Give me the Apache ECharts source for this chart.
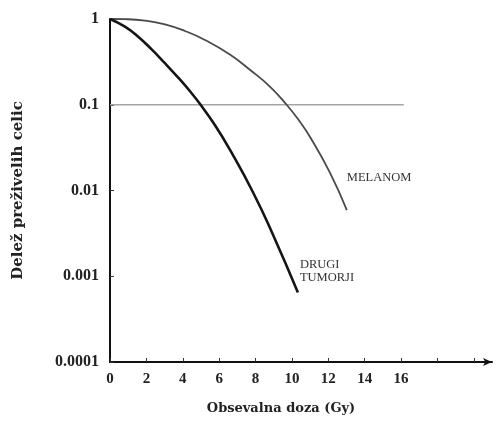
<!DOCTYPE html>
<html>
<head>
<meta charset="utf-8">
<script src="https://cdn.jsdelivr.net/npm/echarts@6/dist/echarts.min.js"></script>
<style>
html,body{margin:0;padding:0;background:#fff;}
#c{width:497px;height:425px;}
</style>
</head>
<body>
<div id="c"></div>
<script>
// Dose (Gy) and surviving fraction
var doseDrugi = [0, 0.82, 1.55, 2.29, 3.02, 3.75, 4.40, 4.95, 5.8, 6.59, 7.86, 8.96, 10.33];
var survDrugi = [1, 0.813, 0.621, 0.442, 0.305, 0.207, 0.1436, 0.1019, 0.0566, 0.0299, 0.00955, 0.00305, 0.000646];

var doseMelanom = [0, 0.82, 1.92, 3.02, 4.12, 5.22, 6.59, 7.69, 8.79, 9.71, 10.44, 10.99, 12.09, 13.02];
var survMelanom = [1, 0.995, 0.958, 0.866, 0.725, 0.570, 0.385, 0.256, 0.163, 0.1, 0.0635, 0.0424, 0.0162, 0.0059];

var refDose = [0, 16.15];
var refSurv = [0.1, 0.1];

var xTickLabels = ['0', '2', '4', '6', '8', '10', '12', '14', '16'];
var yTickLabels = ['0.0001', '0.001', '0.01', '0.1', '1'];

var labelMelanom = 'MELANOM';
var labelDrugi = 'DRUGI\nTUMORJI';
var xTitle = 'Obsevalna doza (Gy)';
var yTitle = 'Delež preživelih celic';

function pairs(xs, ys) { return xs.map(function (x, i) { return [x, ys[i]]; }); }

var serif = 'Liberation Serif';
var wide = 'DejaVu Serif';
var chart = echarts.init(document.getElementById('c'));
chart.setOption({
  animation: false,
  backgroundColor: '#fff',
  grid: { left: 110, right: 5, top: 19, bottom: 63 },
  xAxis: {
    type: 'value', min: 0, max: 21, interval: 2,
    name: xTitle, nameLocation: 'middle', nameGap: 40,
    nameTextStyle: { fontFamily: wide, fontWeight: 'bold', fontSize: 13, color: '#222', padding: [0, 40, 0, 0] },
    axisLine: { lineStyle: { color: '#111', width: 2 }, symbol: ['none', 'arrow'], symbolSize: [6, 9] },
    axisTick: { inside: true, length: 4, lineStyle: { color: '#333', width: 1 } },
    splitLine: { show: false },
    axisLabel: {
      showMaxLabel: false, margin: 10,
      fontFamily: serif, fontWeight: 'bold', fontSize: 15, color: '#222',
      formatter: function (v) { var s = String(v); return xTickLabels.indexOf(s) >= 0 ? s : ''; }
    }
  },
  yAxis: {
    type: 'log', logBase: 10, min: 0.0001, max: 1,
    name: yTitle, nameLocation: 'middle', nameGap: 84, nameRotate: 90,
    nameTextStyle: { fontFamily: wide, fontWeight: 'bold', fontSize: 15, color: '#222' },
    axisLine: { show: true, lineStyle: { color: '#111', width: 2 } },
    axisTick: { inside: true, length: 4, lineStyle: { color: '#333', width: 1 } },
    splitLine: { show: false },
    axisLabel: {
      margin: 11, fontFamily: serif, fontWeight: 'bold', fontSize: 16, color: '#222',
      formatter: function (v) {
        var e = Math.round(Math.log10(v));
        return yTickLabels[e + 4];
      }
    }
  },
  series: [
    {
      type: 'line', data: pairs(refDose, refSurv), symbol: 'none',
      lineStyle: { color: '#a5a5a5', width: 1.5 }, silent: true
    },
    {
      type: 'line', data: pairs(doseMelanom, survMelanom), symbol: 'none', smooth: 0.5,
      lineStyle: { color: '#4a4a4a', width: 1.8 },
      endLabel: {
        show: true, formatter: labelMelanom, distance: 0, offset: [0, -32],
        fontFamily: serif, fontSize: 12.5, color: '#333'
      }
    },
    {
      type: 'line', data: pairs(doseDrugi, survDrugi), symbol: 'none', smooth: 0.5,
      lineStyle: { color: '#151515', width: 2.6 },
      endLabel: {
        show: true, formatter: labelDrugi, distance: 0, offset: [2, -21], lineHeight: 13,
        fontFamily: serif, fontSize: 12.5, color: '#333'
      }
    }
  ]
});
</script>
</body>
</html>
